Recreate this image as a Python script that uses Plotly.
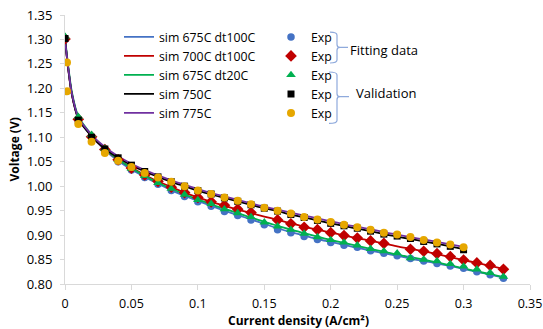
import plotly.graph_objects as go

# ---------------- data ----------------
sim_x_long = [0, 0.002, 0.005, 0.01, 0.02, 0.03, 0.04, 0.05, 0.06, 0.07, 0.08, 0.09, 0.10,
              0.11, 0.12, 0.13, 0.14, 0.15, 0.16, 0.17, 0.18, 0.19, 0.20, 0.21, 0.22, 0.23,
              0.24, 0.25, 0.26, 0.27, 0.28, 0.29, 0.30, 0.31, 0.32, 0.33]
sim_x_short = sim_x_long[:33]

sim_675_dt100 = [1.300, 1.250, 1.190, 1.140, 1.102, 1.074, 1.052, 1.034, 1.019, 1.005, 0.992,
                 0.980, 0.970, 0.960, 0.950, 0.941, 0.932, 0.923, 0.914, 0.906, 0.899, 0.892,
                 0.886, 0.880, 0.874, 0.868, 0.863, 0.858, 0.852, 0.847, 0.842, 0.837, 0.831,
                 0.825, 0.819, 0.813]
sim_700_dt100 = [1.300, 1.250, 1.190, 1.140, 1.103, 1.076, 1.055, 1.038, 1.023, 1.010, 0.998,
                 0.987, 0.977, 0.968, 0.960, 0.952, 0.945, 0.938, 0.931, 0.924, 0.917, 0.911,
                 0.905, 0.899, 0.894, 0.888, 0.883, 0.877, 0.872, 0.867, 0.861, 0.855, 0.849,
                 0.843, 0.837, 0.831]
sim_675_dt20 = [1.305, 1.255, 1.195, 1.143, 1.105, 1.077, 1.055, 1.037, 1.021, 1.007, 0.995,
                0.983, 0.973, 0.963, 0.954, 0.945, 0.936, 0.927, 0.919, 0.911, 0.904, 0.897,
                0.890, 0.884, 0.878, 0.872, 0.866, 0.860, 0.855, 0.850, 0.844, 0.838, 0.832,
                0.826, 0.820, 0.814]
sim_750 = [1.300, 1.250, 1.190, 1.138, 1.102, 1.077, 1.058, 1.043, 1.030, 1.019, 1.009, 1.000,
           0.991, 0.983, 0.976, 0.969, 0.962, 0.955, 0.949, 0.942, 0.936, 0.930, 0.924, 0.919,
           0.913, 0.908, 0.902, 0.897, 0.892, 0.887, 0.882, 0.877, 0.871]
sim_775 = [1.300, 1.252, 1.192, 1.141, 1.105, 1.080, 1.061, 1.046, 1.033, 1.022, 1.012, 1.003,
           0.994, 0.986, 0.979, 0.972, 0.965, 0.958, 0.952, 0.946, 0.940, 0.934, 0.928, 0.922,
           0.917, 0.912, 0.906, 0.901, 0.896, 0.891, 0.886, 0.881, 0.876]

exp_x_long = [0, 0.01, 0.02, 0.03, 0.04, 0.05, 0.06, 0.07, 0.08, 0.09, 0.10, 0.11, 0.12, 0.13,
              0.14, 0.15, 0.16, 0.17, 0.18, 0.19, 0.20, 0.21, 0.22, 0.23, 0.24, 0.25, 0.26,
              0.27, 0.28, 0.29, 0.30, 0.31, 0.32, 0.33]
exp_675_dt100 = [1.300, 1.136, 1.100, 1.072, 1.050, 1.033, 1.018, 1.004, 0.991, 0.979, 0.968,
                 0.959, 0.948, 0.940, 0.931, 0.921, 0.911, 0.905, 0.897, 0.891, 0.885, 0.879,
                 0.875, 0.868, 0.863, 0.858, 0.852, 0.847, 0.842, 0.837, 0.832, 0.825, 0.819,
                 0.812]
exp_675_dt20 = [1.306, 1.142, 1.105, 1.077, 1.054, 1.036, 1.021, 1.007, 0.995, 0.983, 0.972,
                0.964, 0.953, 0.945, 0.937, 0.926, 0.918, 0.911, 0.903, 0.896, 0.890, 0.885,
                0.879, 0.872, 0.867, 0.863, 0.853, 0.850, 0.847, 0.841, 0.836, 0.830, 0.823,
                0.815]
exp_700_x = [0, 0.01, 0.02, 0.03, 0.04, 0.05, 0.06, 0.07, 0.08, 0.09, 0.10, 0.11, 0.12, 0.13,
             0.14, 0.16, 0.17, 0.18, 0.19, 0.20, 0.21, 0.22, 0.23, 0.24, 0.26, 0.27, 0.28,
             0.29, 0.30, 0.31, 0.32, 0.33]
exp_700_dt100 = [1.301, 1.137, 1.101, 1.075, 1.054, 1.037, 1.023, 1.010, 0.998, 0.987, 0.977,
                 0.968, 0.961, 0.953, 0.946, 0.931, 0.923, 0.916, 0.911, 0.905, 0.899, 0.894,
                 0.888, 0.883, 0.871, 0.867, 0.862, 0.856, 0.849, 0.843, 0.838, 0.830]
exp_x_short = exp_x_long[:31]
exp_750 = [1.302, 1.135, 1.100, 1.076, 1.058, 1.043, 1.030, 1.019, 1.009, 1.000, 0.991, 0.984,
           0.976, 0.969, 0.962, 0.955, 0.949, 0.942, 0.936, 0.930, 0.924, 0.919, 0.914, 0.908,
           0.902, 0.898, 0.893, 0.887, 0.882, 0.877, 0.870]
exp_775_x = [0.0015, 0.0015, 0.01, 0.02, 0.03, 0.04, 0.05, 0.06, 0.07, 0.08, 0.09, 0.10, 0.11,
             0.12, 0.13, 0.14, 0.15, 0.16, 0.17, 0.18, 0.19, 0.20, 0.21, 0.22, 0.23, 0.24,
             0.25, 0.26, 0.27, 0.28, 0.29, 0.30]
exp_775 = [1.253, 1.194, 1.127, 1.091, 1.068, 1.052, 1.039, 1.027, 1.018, 1.009, 1.000, 0.991,
           0.984, 0.977, 0.970, 0.963, 0.956, 0.950, 0.944, 0.937, 0.932, 0.927, 0.921, 0.916,
           0.911, 0.905, 0.901, 0.896, 0.890, 0.885, 0.881, 0.875]

x_ticks = [0, 0.05, 0.1, 0.15, 0.2, 0.25, 0.3, 0.35]
y_ticks = [0.80, 0.85, 0.90, 0.95, 1.00, 1.05, 1.10, 1.15, 1.20, 1.25, 1.30, 1.35]

BLUE = "#4472C4"
RED = "#C00000"
GREEN = "#00B050"
BLACK = "#000000"
PURPLE = "#7030A0"
GOLD = "#E6A700"
FONT = "Open Sans"

# ---------------- figure ----------------
fig = go.Figure()
sims = [
    ("sim 675C dt100C", sim_x_long, sim_675_dt100, BLUE),
    ("sim 700C dt100C", sim_x_long, sim_700_dt100, RED),
    ("sim 675C dt20C", sim_x_long, sim_675_dt20, GREEN),
    ("sim 750C", sim_x_short, sim_750, BLACK),
    ("sim 775C", sim_x_short, sim_775, PURPLE),
]
for name, xs, ys, col in sims:
    fig.add_trace(go.Scatter(x=xs, y=ys, mode="lines", name=name,
                             line=dict(color=col, width=1.8, shape="spline", smoothing=0.6),
                             legend="legend"))

exps = [
    (exp_x_long, exp_675_dt100, BLUE, "circle", 7.5),
    (exp_700_x, exp_700_dt100, RED, "diamond", 9),
    (exp_x_long, exp_675_dt20, GREEN, "triangle-up", 8.5),
    (exp_x_short, exp_750, BLACK, "square", 7),
    (exp_775_x, exp_775, GOLD, "circle", 8),
]
for xs, ys, col, sym, sz in exps:
    fig.add_trace(go.Scatter(x=xs, y=ys, mode="markers", name="Exp",
                             marker=dict(color=col, symbol=sym, size=sz, line=dict(width=0)),
                             legend="legend2"))

# plot area in pixels: x 65..530, y 14.5..284.5
L, R, T, B = 65, 530, 14.5, 284.5
W, H = R - L, B - T


def px(xp):
    return (xp - L) / W


def py(yp):
    return (B - yp) / H


def brace(x_hook, x_bar, x_tip, y_top, y_mid, y_bot):
    r = 3
    pts = (
        f"M {px(x_hook)} {py(y_top)} "
        f"Q {px(x_bar)} {py(y_top)} {px(x_bar)} {py(y_top + r)} "
        f"L {px(x_bar)} {py(y_mid - r)} "
        f"Q {px(x_bar)} {py(y_mid)} {px(x_bar + r)} {py(y_mid)} "
        f"L {px(x_tip)} {py(y_mid)} "
        f"M {px(x_bar + r)} {py(y_mid)} "
        f"Q {px(x_bar)} {py(y_mid)} {px(x_bar)} {py(y_mid + r)} "
        f"L {px(x_bar)} {py(y_bot - r)} "
        f"Q {px(x_bar)} {py(y_bot)} {px(x_hook)} {py(y_bot)}"
    )
    return dict(type="path", xref="paper", yref="paper", path=pts,
                line=dict(color="#8FAADC", width=1.2))


shapes = [
    brace(330, 337, 348, 31.7, 47, 62.7),
    brace(329, 337, 349, 71.7, 96.5, 123.3),
]

annotations = [
    dict(text="Fitting data", xref="paper", yref="paper", x=px(348), y=py(50),
         xanchor="left", yanchor="middle", showarrow=False,
         font=dict(family=FONT, size=13, color="#000000")),
    dict(text="Validation", xref="paper", yref="paper", x=px(354), y=py(92.5),
         xanchor="left", yanchor="middle", showarrow=False,
         font=dict(family=FONT, size=13, color="#000000")),
    dict(text="<b>Current density (A/cm²)</b>", xref="paper", yref="paper",
         x=px(298), y=py(321), xanchor="center", yanchor="middle", showarrow=False,
         font=dict(family=FONT, size=12, color="#000000")),
    dict(text="<b>Voltage (V)</b>", xref="paper", yref="paper",
         x=px(14), y=py(149.5), xanchor="center", yanchor="middle", showarrow=False,
         textangle=-90, font=dict(family=FONT, size=12, color="#000000")),
]

fig.update_layout(
    width=543, height=329, autosize=False,
    margin=dict(l=L, r=543 - R, t=T, b=329 - B, pad=0, autoexpand=False),
    paper_bgcolor="white", plot_bgcolor="white",
    font=dict(family=FONT, size=13, color="#000000"),
    shapes=shapes, annotations=annotations,
    legend=dict(x=px(119), y=py(22), xanchor="left", yanchor="top",
                bgcolor="rgba(0,0,0,0)", font=dict(family=FONT, size=12.3),
                itemwidth=30, tracegroupgap=0),
    legend2=dict(x=px(271), y=py(22), xanchor="left", yanchor="top",
                 bgcolor="rgba(0,0,0,0)", font=dict(family=FONT, size=12.3),
                 itemwidth=30, tracegroupgap=0),
    xaxis=dict(range=[0, 0.35], tickvals=x_ticks, ticktext=[f"{v:g}" for v in x_ticks],
               showgrid=False, zeroline=False, showline=True, linecolor="#D9D9D9", linewidth=1,
               ticks="outside", ticklen=5, tickcolor="#D9D9D9", ticklabelstandoff=3,
               ticklabeloverflow="allow", automargin=False,
               tickfont=dict(family=FONT, size=12.5, color="#000000")),
    yaxis=dict(range=[0.80, 1.35], tickvals=y_ticks, ticktext=[f"{v:.2f}" for v in y_ticks],
               showgrid=False, zeroline=False, showline=True, linecolor="#D9D9D9", linewidth=1,
               ticks="outside", ticklen=4, tickcolor="#D9D9D9", ticklabelstandoff=5,
               ticklabeloverflow="allow", automargin=False,
               tickfont=dict(family=FONT, size=13, color="#000000")),
)

fig.write_html("out.html", config={"displayModeBar": False},
               post_script="document.body.style.margin='0px';")
